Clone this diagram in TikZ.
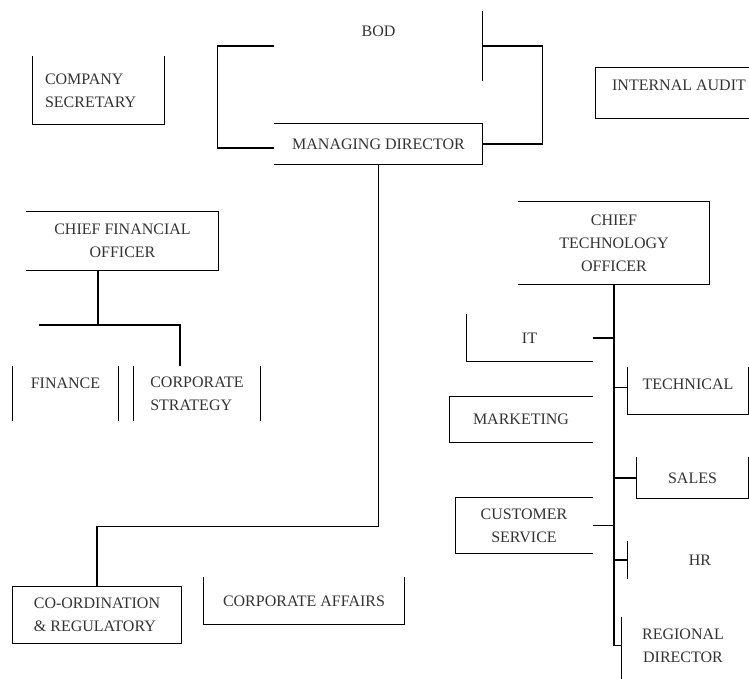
\documentclass[tikz,border=0pt]{standalone}
\usepackage{fontspec}
\setmainfont{Liberation Serif}

\tikzset{
  unit/.style 2 args={minimum width=#1, minimum height=#2, inner sep=0pt},
  every node/.style={font=\fontsize{16}{23}\selectfont, text=black!80},
}

\begin{document}
\begin{tikzpicture}[x=1pt, y=-1pt, line width=1.2pt]

  \useasboundingbox (0,0) rectangle (749,678);

% board and managing director
  \node[unit={207pt}{68pt}, text height=24pt, text depth=44pt] (bod) at (378.5,46) {BOD};
  \node[unit={207pt}{40pt}] (md) at (378.5,144) {MANAGING DIRECTOR};

  \node[unit={131pt}{67pt}, text width=107pt, align=left] (sec) at (98.5,90.5) {COMPANY\\SECRETARY};
  \node[unit={166pt}{50pt}, text height=22pt, text depth=28pt] (audit) at (679,93) {INTERNAL AUDIT};

% finance side
  \node[unit={191pt}{58pt}, align=center] (cfo) at (122.5,241) {CHIEF FINANCIAL\\OFFICER};
  \node[unit={105pt}{53pt}, text height=21.5pt, text depth=31.5pt] (fin) at (65.5,393.5) {FINANCE};
  \node[unit={126pt}{53pt}, align=left] (strat) at (197,393.5) {CORPORATE\\STRATEGY};

  \node[unit={168pt}{56pt}, align=left] (coord) at (97,615) {CO-ORDINATION\\\& REGULATORY};
  \node[unit={200pt}{46pt}] (affairs) at (304,601) {CORPORATE AFFAIRS};

% technology side
  \node[unit={190pt}{82pt}, align=center] (cto) at (614,243) {CHIEF\\TECHNOLOGY\\OFFICER};
  \node[unit={125pt}{46pt}] (it) at (529.5,338) {IT};
  \node[unit={120pt}{46pt}, text height=21.5pt, text depth=24.5pt] (tech) at (688,391) {TECHNICAL};
  \node[unit={142pt}{45pt}] (mkt) at (521,419.5) {MARKETING};
  \node[unit={111pt}{40pt}] (sales) at (692.5,478) {SALES};
  \node[unit={136pt}{55pt}, align=center] (cust) at (524,525.5) {CUSTOMER\\SERVICE};
  \node[unit={144pt}{36pt}] (hr) at (700,560) {HR};
  \node[unit={122pt}{55pt}, align=center] (reg) at (683,645.5) {REGIONAL\\DIRECTOR};


% open boxes
  \draw (bod.north east) -- (bod.south east);
  \draw (md.north west) -- (md.north east) -- (md.south east) -- (md.south west);
  \draw (sec.north west) -- (sec.south west) -- (sec.south east) -- (sec.north east);
  \draw (audit.north east) -- (audit.north west) -- (audit.south west) -- (audit.south east);

  \draw (cfo.north west) -- (cfo.north east) -- (cfo.south east) -- (cfo.south west);
  \draw (fin.north west) -- (fin.south west);
  \draw (fin.north east) -- (fin.south east);
  \draw (strat.north west) -- (strat.south west);
  \draw (strat.north east) -- (strat.south east);
  \draw (coord.north west) rectangle (coord.south east);
  \draw (affairs.north west) -- (affairs.south west) -- (affairs.south east) -- (affairs.north east);

  \draw (cto.north west) -- (cto.north east) -- (cto.south east) -- (cto.south west);
  \draw (it.north west) -- (it.south west) -- (it.south east);
  \draw (tech.north west) -- (tech.south west) -- (tech.south east) -- (tech.north east);
  \draw (mkt.north east) -- (mkt.north west) -- (mkt.south west) -- (mkt.south east);
  \draw (sales.north west) -- (sales.south west) -- (sales.south east) -- (sales.north east);
  \draw (cust.north east) -- (cust.north west) -- (cust.south west) -- (cust.south east);
  \draw (hr.north west) -- (hr.south west);
  \draw (reg.north west) -- ++(0,62);


% connectors
  \draw (bod.west) -- ++(-57,0) |- ([yshift=-4pt]md.west);
  \draw (bod.east) -- ++(60,0) |- (md.east);
  \draw (md.south) -- ++(0,362) -| (coord.north);

  \coordinate (cfobus) at (39,325);
  \draw ([xshift=-24.5pt]cfo.south) |- (cfobus);
  \draw (cfobus) -| ([xshift=-17pt]strat.north);

  \draw (cto.south) |- (reg.west);
  \draw (it.east) -- (it.east -| cto.south);
  \draw (tech.mid west) -- (tech.mid west -| cto.south);
  \draw (sales.west) -- (sales.west -| cto.south);
  \draw (cust.east) -- (cust.east -| cto.south);
  \draw (hr.west) -- (hr.west -| cto.south);

\end{tikzpicture}
\end{document}
